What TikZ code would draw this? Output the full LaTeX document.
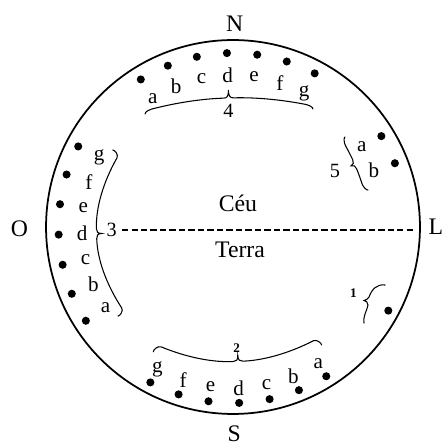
\documentclass[tikz,border=0pt]{standalone}
\usepackage{fontspec}
\setmainfont{Liberation Serif}
\usetikzlibrary{calc}

\begin{document}
\begin{tikzpicture}[
    x=0.02cm, y=0.02cm,
    ponto/.style={circle, fill=black, inner sep=0pt, minimum size=4.6pt},
    letra/.style={inner sep=0pt, font=\fontsize{12}{14}\selectfont},
    rumo/.style={inner sep=0pt, font=\fontsize{13.5}{15}\selectfont},
    grupo/.style={inner sep=1pt, font=\fontsize{11.5}{13}\selectfont},
    miudo/.style={inner sep=1pt, font=\fontsize{7.5}{8}\selectfont\bfseries},
    chave/.style={line width=0.6pt, line cap=round},
    corte/.style={line width=0.6pt, dash pattern=on 3.6pt off 1.8pt},
    pics/cbrace/.style n args={4}{code={
      \draw[chave] (-#1,-#2)
        .. controls (-#1,{-#2/2}) and ({-#1+5},{-6*(#3)/(#1-8)}) .. ({-#1+8},0)
        .. controls ({-2*(#1-8)/3},{2*(#3)/3}) and ({-(#1-8)/3},#3) .. (-5,#3)
        .. controls (-2,#3) and (0,{#3+1}) .. (0,{#3+#4})
        .. controls (0,{#3+1}) and (2,#3) .. (5,#3)
        .. controls ({(#1-8)/3},#3) and ({2*(#1-8)/3},{2*(#3)/3}) .. ({#1-8},0)
        .. controls ({#1-5},{-6*(#3)/(#1-8)}) and (#1,{-#2/2}) .. (#1,-#2);
    }},
  ]
    \useasboundingbox (-233,-219) rectangle (211,227);

    % o mundo
    \draw[line width=1pt] (0,0) circle[radius=3.74cm];
    \coordinate (leste) at (187,-3);

    \node[rumo] (norte) at (1.7,203.5) {N};
    \node[rumo] (sul) at (1.3,-206.5) {S};
    \node[rumo] (oeste) at (-213.5,-2) {O};
    \node[rumo] (lste) at (202.8,0.3) {L};

    \node[rumo, anchor=base] (ceu) at (5,15) {Céu};
    \node[rumo, anchor=base] (terra) at (7,-31) {Terra};

    % grupo 4, em cima
    \foreach \l [count=\i] in {a,b,c,d,e,f,g} {
      \node[ponto] (n\l) at ({132-10*\i}:174) {};
      \node[letra] (nl\l) at ({132-10*\i}:151.5) {\l};
    }
    \pic[rotate=1.7] at (-4.15,120.5) {cbrace={84}{5}{8.5}{8}};
    \node[grupo] (g4) at (-4.7,116) {4};

    % grupo 3, a oeste
    \foreach \l [count=\i] in {a,b,c,d,e,f,g} {
      \node[ponto] (o\l) at ({222.5-10*\i}:174.5) {};
      \node[letra] (ol\l) at ({222.5-10*\i}:151) {\l};
    }
    \pic[rotate=-88.2] at (-113.65,-5.9) {cbrace={83.1}{4}{-22.8}{5}};
    \node[grupo] (g3) at (-121.3,-3) {3};

    % grupo 2, embaixo
    \foreach \l [count=\i] in {a,b,c,d,e,f,g} {
      \node[ponto] (s\l) at ({312-10*\i}:176) {};
      \node[letra] (sl\l) at ({312-10*\i}:161) {\l};
    }
    \pic[rotate=2.3] at (4.3,-116.8) {cbrace={84.2}{4.6}{-17.6}{6}};
    \node[miudo] (g2) at (3.7,-121.3) {2};

    % grupo 5
    \foreach \l [count=\i] in {a,b} {
      \node[ponto] (l\l) at ({41.5-10*\i}:174) {};
      \node[letra] (ll\l) at ({42-10*\i}:152) {\l};
    }
    \pic[rotate=113.5] at (120.75,62.3) {cbrace={28.9}{3}{-1}{4}};
    \node[grupo] (g5) at (102,56.3) {5};

    % grupo 1
    \node[ponto] (um) at (331.7:176.4) {};
    \draw[chave] (152,-58) .. controls (144,-57) and (139,-62) .. (136,-70)
      .. controls (135,-72) and (133,-73) .. (131,-73.5)
      .. controls (133,-74) and (135,-75) .. (135,-78)
      .. controls (134,-84) and (130,-88) .. (131,-96);
    \node[miudo] (g1) at (120.3,-66.3) {1};

    % ceu / terra
    \draw[corte, shorten <=1.8pt, shorten >=2.8pt] (g3.east) -- (g3.east -| leste);
  \end{tikzpicture}
\end{document}
